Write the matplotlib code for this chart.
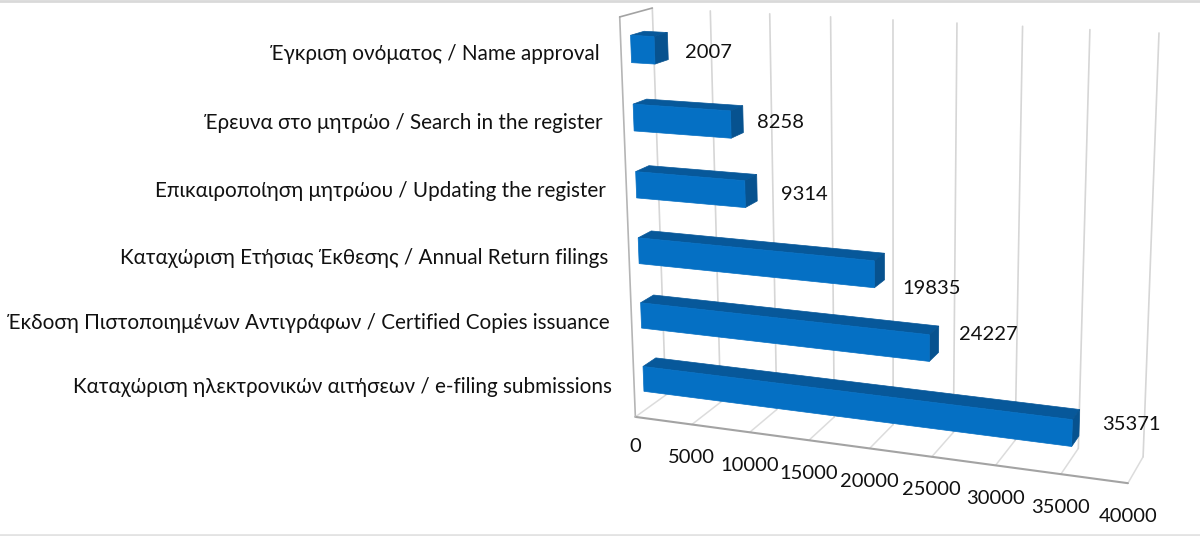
import numpy as np
import matplotlib
matplotlib.use('Agg')
import matplotlib.pyplot as plt
from matplotlib.patches import Polygon

plt.rcParams['font.family'] = ['Lato', 'Open Sans', 'DejaVu Sans']

categories = [
    'Καταχώριση ηλεκτρονικών αιτήσεων / e-filing submissions',
    'Έκδοση Πιστοποιημένων Αντιγράφων / Certified Copies issuance',
    'Καταχώριση Ετήσιας Έκθεσης / Annual Return filings',
    'Επικαιροποίηση μητρώου / Updating the register',
    'Έρευνα στο μητρώο / Search in the register',
    'Έγκριση ονόματος / Name approval',
]
values = [35371, 24227, 19835, 9314, 8258, 2007]
ticks = [0, 5000, 10000, 15000, 20000, 25000, 30000, 35000, 40000]
xmax = 40000

# Where the corners of the 3D box land on the picture: (value, depth, height) -> pixel
box_3d = [(0, 0, 0), (xmax, 0, 0), (0, 1, 0), (xmax, 1, 0), (0, 1, 1), (xmax, 1, 1), (0, 0, 1)]
box_px = [(635, 417), (1128, 483), (666, 395), (1143, 457), (652, 8), (1159, 33), (620, 17)]

# Fit the camera matrix from the corners
rows = []
for (v, d, h), (px, py) in zip(box_3d, box_px):
    p = [v / xmax, d, h, 1]
    rows.append(p + [0, 0, 0, 0] + [-px * c for c in p])
    rows.append([0, 0, 0, 0] + p + [-py * c for c in p])
cam = np.linalg.svd(np.array(rows, dtype=float))[2][-1].reshape(3, 4)


def project(v, d, h):
    x, y, w = cam @ np.array([v / xmax, d, h, 1])
    return x / w, y / w


# Bar geometry inside the box
n = len(values)
bar_h = 0.395
d_front, d_back = 0.30, 0.72

fig = plt.figure(figsize=(12, 5.36), dpi=100)
ax = fig.add_axes([0, 0, 1, 1])
ax.set_xlim(0, 1200)
ax.set_ylim(536, 0)
ax.axis('off')

# Picture border lines, top and bottom
ax.plot([0, 1200], [0.5, 0.5], color='#d9d9d9', lw=2)
ax.plot([0, 1200], [534.5, 534.5], color='#e3e3e3', lw=2)


def line(p1, p2, color, lw):
    ax.plot([p1[0], p2[0]], [p1[1], p2[1]], color=color, lw=lw, solid_capstyle='round', zorder=1)


# Gridlines on floor and back wall
for t in ticks:
    line(project(t, 0, 0), project(t, 1, 0), '#dcdcdc', 1.1)
    line(project(t, 1, 0), project(t, 1, 1), '#d6d6d6', 1.2)

# Axis lines
line(project(0, 0, 0), project(xmax, 0, 0), '#a3a3a3', 1.5)
line(project(0, 0, 0), project(0, 0, 1), '#b5b5b5', 1.2)
line(project(0, 0, 1), project(0, 1, 1), '#a3a3a3', 1.2)

front_color = '#0570c4'
top_color = '#07589a'
side_color = '#07528f'

for i, val in enumerate(values):
    h0 = (i + 0.5 - bar_h / 2) / n
    h1 = (i + 0.5 + bar_h / 2) / n
    top = [project(0, d_front, h1), project(val, d_front, h1), project(val, d_back, h1), project(0, d_back, h1)]
    side = [project(val, d_front, h0), project(val, d_back, h0), project(val, d_back, h1), project(val, d_front, h1)]
    front = [project(0, d_front, h0), project(val, d_front, h0), project(val, d_front, h1), project(0, d_front, h1)]
    ax.add_patch(Polygon(top, closed=True, fc=top_color, ec=top_color, lw=0.5, zorder=3))
    ax.add_patch(Polygon(side, closed=True, fc=side_color, ec=side_color, lw=0.5, zorder=3))
    ax.add_patch(Polygon(front, closed=True, fc=front_color, ec=front_color, lw=0.5, zorder=3))

fs = 14.5

# Category labels, hand placed
label_right = [612, 610, 608, 606, 603, 600]
label_y = [387, 323, 258, 191, 123, 54]
for name, lx, ly in zip(categories, label_right, label_y):
    ax.text(lx, ly, name, ha='right', va='center', fontsize=14.9, color='#111111', zorder=5)

# Value labels
val_x = [1131, 988, 932, 804, 780, 708]
val_y = [424, 335, 288, 195, 122, 52]
for val, lx, ly in zip(values, val_x, val_y):
    ax.text(lx, ly, str(val), ha='center', va='center', fontsize=fs, color='#111111', zorder=5)

# Tick labels under the front axis
for t in ticks:
    px, py = project(t, 0, 0)
    ax.text(px, py + (30 if t == 0 else 33), str(t), ha='center', va='center', fontsize=fs, color='#111111', zorder=5)

fig.savefig('out.png', dpi=100, facecolor='white')
